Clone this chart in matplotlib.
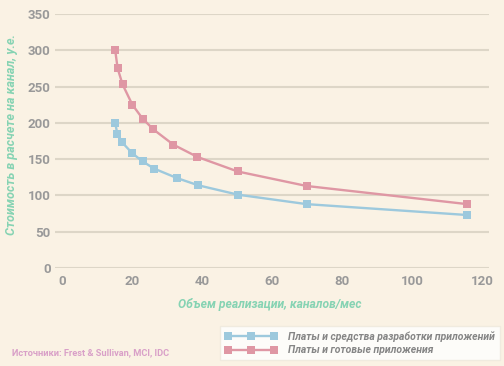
import matplotlib
matplotlib.use('Agg')
import matplotlib.pyplot as plt

plt.rcParams['font.family'] = ['Roboto', 'DejaVu Sans']

# data
x_ready = [15.2, 15.9, 17.3, 20.1, 23.0, 26.1, 31.8, 38.7, 50.2, 69.9, 115.8]
y_ready = [300, 275, 253, 225, 206, 191, 170, 153, 133, 113, 88]
x_dev = [15.2, 15.8, 17.2, 20.1, 23.0, 26.3, 32.8, 38.9, 50.3, 69.9, 115.8]
y_dev = [200, 185, 173, 158, 147, 137, 124, 114, 101, 88, 73]
x_ticks = [0, 20, 40, 60, 80, 100, 120]
y_ticks = [0, 50, 100, 150, 200, 250, 300, 350]
label_dev = 'Платы и средства разработки приложений'
label_ready = 'Платы и готовые приложения'

bg = '#faf2e4'
blue = '#9dc9dd'
pink = '#df97a4'
green = '#86d3b3'
gray = '#999999'

fig = plt.figure(figsize=(5.04, 3.66), dpi=100, facecolor=bg)
ax = fig.add_axes([55/504, 1-268/366, (489-55)/504, (268-14)/366])
ax.set_facecolor(bg)

l1, = ax.plot(x_dev, y_dev, color=blue, lw=1.7, marker='s', ms=6.3,
              markeredgewidth=0, label=label_dev, zorder=3, clip_on=False)
l2, = ax.plot(x_ready, y_ready, color=pink, lw=1.7, marker='s', ms=6.3,
              markeredgewidth=0, label=label_ready, zorder=3, clip_on=False)

ax.set_xlim(-2, 122)
ax.set_ylim(0, 350)
ax.set_xticks(x_ticks)
ax.set_yticks(y_ticks)
ax.grid(axis='y', color='#ddd6c7', lw=1.5, zorder=0)
for s in ax.spines.values():
    s.set_visible(False)
ax.tick_params(axis='y', length=0, labelsize=9.5, colors=gray, pad=3)
ax.tick_params(axis='x', length=0, labelsize=9.5, colors=gray, pad=5)
for t in ax.get_xticklabels() + ax.get_yticklabels():
    t.set_fontweight('bold')

ax.set_xlabel('Объем реализации, каналов/мес', color=green, fontsize=8.7,
              fontweight='bold', style='italic')
ax.xaxis.set_label_coords(0.495, -0.118)
ax.set_ylabel('Стоимость в расчете на канал, у.е.', color=green, fontsize=9,
              fontweight='bold', style='italic')
ax.yaxis.set_label_coords(-0.085, 0.524)

leg = fig.legend(handles=[l1, l2], loc='lower right', bbox_to_anchor=(500/504, 6/366),
                 numpoints=3, handlelength=5.0, handletextpad=1.1, fontsize=7.5,
                 frameon=True, fancybox=False, borderpad=0.45, labelspacing=0.35,
                 borderaxespad=0)
leg.get_frame().set_facecolor('white')
leg.get_frame().set_edgecolor('#eee8dc')
for t in leg.get_texts():
    t.set_color('#858585')
    t.set_style('italic')
    t.set_fontweight('bold')

fig.text(12/504, 1-353/366, 'Источники: Frest & Sullivan, MCI, IDC', color='#d9a0c8',
         fontsize=6.7, fontweight='bold', va='center')

fig.savefig('out.png', dpi=100, facecolor=bg)
